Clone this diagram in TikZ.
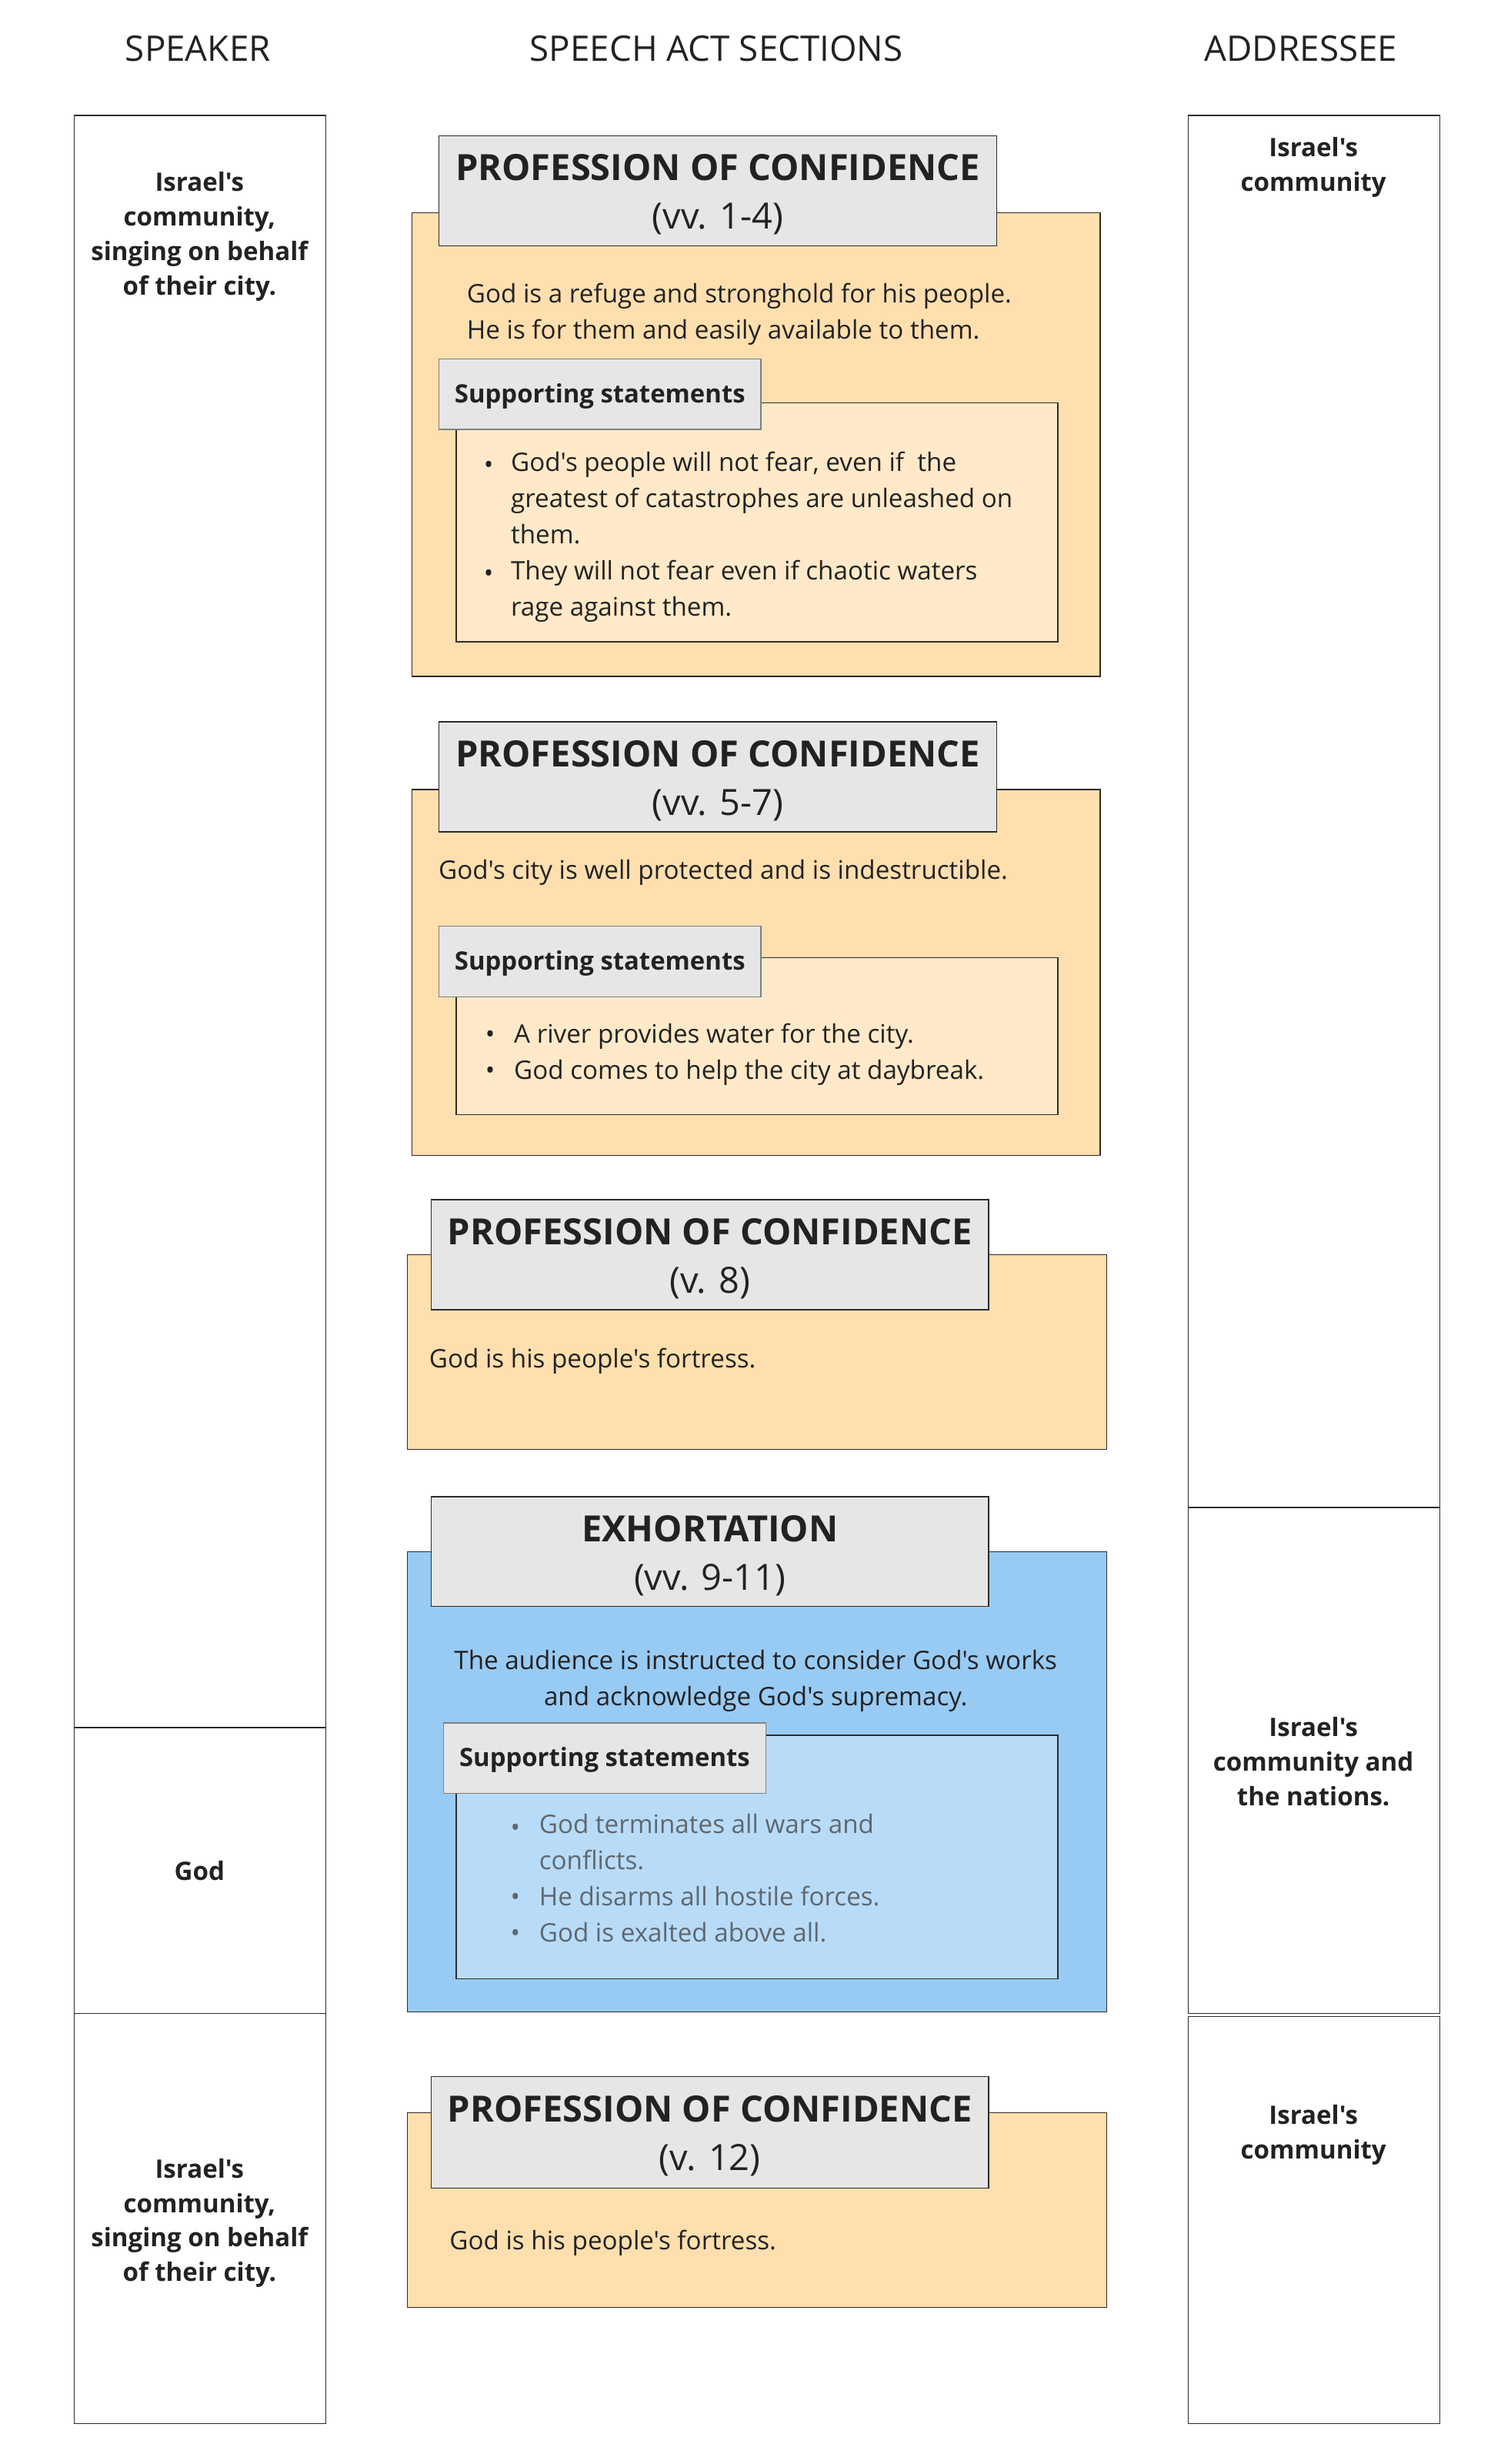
\documentclass[tikz,border=0pt]{standalone}
\usepackage{fontspec}
\newfontfamily\opensans{Open Sans}
\usetikzlibrary{positioning}
\definecolor{linedark}{HTML}{2E2B28}
\definecolor{labelgray}{HTML}{808080}
\definecolor{headgray}{HTML}{E6E6E6}
\definecolor{orangefill}{HTML}{FFDFAE}
\definecolor{orangelight}{HTML}{FFE9C8}
\definecolor{bluefill}{HTML}{98CBF4}
\definecolor{bluelight}{HTML}{B8DCF8}
\definecolor{textdark}{HTML}{222222}
\definecolor{textgray}{HTML}{60676E}

\begin{document}
\begin{tikzpicture}[x=1pt, y=-1pt,
    colhead/.style={font=\opensans\fontsize{22.4}{26}\selectfont, text=textdark},
    lane/.style={draw=linedark, line width=0.7pt, anchor=north west, inner sep=0pt},
    who/.style={font=\opensans\bfseries\fontsize{16.2}{22}\selectfont, align=center, text=textdark,
        inner sep=0pt, yshift=-4pt, execute at begin node=\strut, execute at end node=\strut},
    section/.style={draw=linedark, line width=0.7pt, anchor=north west, inner sep=0pt},
    heading/.style={draw=linedark, line width=0.7pt, fill=headgray, anchor=north west, inner sep=0pt,
        minimum width=355pt, minimum height=70pt},
    headtxt/.style={align=center, inner sep=0pt, font=\opensans\fontsize{23}{31}\selectfont, text=textdark},
    support/.style={draw=labelgray, line width=0.7pt, fill=headgray, anchor=north west, inner sep=0pt,
        minimum width=205pt, minimum height=45pt, text depth=1.5pt,
        font=\opensans\bfseries\fontsize{16.1}{18}\selectfont, text=textdark},
    body/.style={font=\opensans\fontsize{16.25}{23}\selectfont, inner sep=0pt, align=left, anchor=west, text=textdark,
        yshift=-2pt, execute at begin node=\strut, execute at end node=\strut},
    bul/.style={font=\opensans\fontsize{16.25}{23}\selectfont, inner sep=0pt, text=textdark,
        yshift=-2pt, execute at begin node=\strut}]

    \useasboundingbox (0,0) rectangle (955,1568);

    % Column headings
    \node[colhead] (hspk) at (126,31) {SPEAKER};
    \node[colhead] (hact) at (456,31) {SPEECH ACT SECTIONS};
    \node[colhead] (hadr) at (828,31) {ADDRESSEE};

    % Speaker lanes
    \node[lane, minimum width=160pt, minimum height=1026pt] (spk1) at (47,73) {};
    \node[lane, minimum width=160pt, minimum height=182pt] (spk2) at (47,1099) {};
    \node[lane, minimum width=160pt, minimum height=261pt] (spk3) at (47,1281) {};
    \node[who] (spk1txt) at (127,148) {Israel's\\community,\\singing on behalf\\of their city.};
    \node[who] (spk2txt) at (127,1188) {God};
    \node[who] (spk3txt) at (127,1412) {Israel's\\community,\\singing on behalf\\of their city.};

    % Addressee lanes
    \node[lane, minimum width=160pt, minimum height=886pt] (adr1) at (756,73) {};
    \node[lane, minimum width=160pt, minimum height=322pt] (adr2) at (756,959) {};
    \node[lane, minimum width=160pt, minimum height=259pt] (adr3) at (756,1283) {};
    \node[who] (adr1txt) at (836,104) {Israel's\\community};
    \node[who] (adr2txt) at (836,1120) {Israel's\\community and\\the nations.};
    \node[who] (adr3txt) at (836,1356) {Israel's\\community};

    % Section 1: vv. 1-4
    \node[section, fill=orangefill, minimum width=438pt, minimum height=295pt] (sec1) at (262,135) {};
    \node[section, fill=orangelight, minimum width=383pt, minimum height=152pt] (sup1) at (290,256) {};
    \node[heading] (head1) at (279,86) {};
    \node[headtxt] (head1txt) at ([yshift=-2.5pt]head1.center) {\textbf{PROFESSION OF CONFIDENCE}\\(vv. 1-4)};
    \node[support] (lab1) at (279,228) {Supporting statements};
    \node[body] (txt1) at (297,199.5) {God is a refuge and stronghold for his people.\\He is for them and easily available to them.};
    \node[bul] (b1a) at (311,295) {\textbullet};
    \node[body] (i1a) at (325,318) {God's people will not fear, even if\ \ the\\greatest of catastrophes are unleashed on\\them.};
    \node[bul] (b1b) at (311,364) {\textbullet};
    \node[body] (i1b) at (325,375.5) {They will not fear even if chaotic waters\\rage against them.};

    % Section 2: vv. 5-7
    \node[section, fill=orangefill, minimum width=438pt, minimum height=233pt] (sec2) at (262,502) {};
    \node[section, fill=orangelight, minimum width=383pt, minimum height=100pt] (sup2) at (290,609) {};
    \node[heading] (head2) at (279,459) {};
    \node[headtxt] (head2txt) at ([yshift=-2.5pt]head2.center) {\textbf{PROFESSION OF CONFIDENCE}\\(vv. 5-7)};
    \node[support] (lab2) at (279,589) {Supporting statements};
    \node[body] (txt2) at (279,553) {God's city is well protected and is indestructible.};
    \node[bul] (b2a) at (312,657) {\textbullet};
    \node[body] (i2a) at (327,657) {A river provides water for the city.};
    \node[bul] (b2b) at (312,680) {\textbullet};
    \node[body] (i2b) at (327,680) {God comes to help the city at daybreak.};

    % Section 3: v. 8
    \node[section, fill=orangefill, minimum width=445pt, minimum height=124pt] (sec3) at (259,798) {};
    \node[heading] (head3) at (274,763) {};
    \node[headtxt] (head3txt) at ([yshift=-2.5pt]head3.center) {\textbf{PROFESSION OF CONFIDENCE}\\(v. 8)};
    \node[body] (txt3) at (273,864) {God is his people's fortress.};

    % Section 4: vv. 9-11
    \node[section, fill=bluefill, minimum width=445pt, minimum height=293pt] (sec4) at (259,987) {};
    \node[section, fill=bluelight, minimum width=383pt, minimum height=155pt] (sup4) at (290,1104) {};
    \node[heading] (head4) at (274,952) {};
    \node[headtxt] (head4txt) at ([yshift=-2.5pt]head4.center) {\textbf{EXHORTATION}\\(vv. 9-11)};
    \node[support] (lab4) at (282,1096) {Supporting statements};
    \node[body, align=center, anchor=center] (txt4) at (481,1069) {The audience is instructed to consider God's works\\and acknowledge God's supremacy.};
    \node[bul, text=textgray] (b4a) at (328,1162) {\textbullet};
    \node[body, text=textgray] (i4a) at (343,1173.5) {God terminates all wars and\\conflicts.};
    \node[bul, text=textgray] (b4b) at (328,1206) {\textbullet};
    \node[body, text=textgray] (i4b) at (343,1206) {He disarms all hostile forces.};
    \node[bul, text=textgray] (b4c) at (328,1229) {\textbullet};
    \node[body, text=textgray] (i4c) at (343,1229) {God is exalted above all.};

    % Section 5: v. 12
    \node[section, fill=orangefill, minimum width=445pt, minimum height=124pt] (sec5) at (259,1344) {};
    \node[heading, minimum height=71pt] (head5) at (274,1321) {};
    \node[headtxt] (head5txt) at ([yshift=-2.5pt]head5.center) {\textbf{PROFESSION OF CONFIDENCE}\\(v. 12)};
    \node[body] (txt5) at (286,1425) {God is his people's fortress.};

\end{tikzpicture}
\end{document}
